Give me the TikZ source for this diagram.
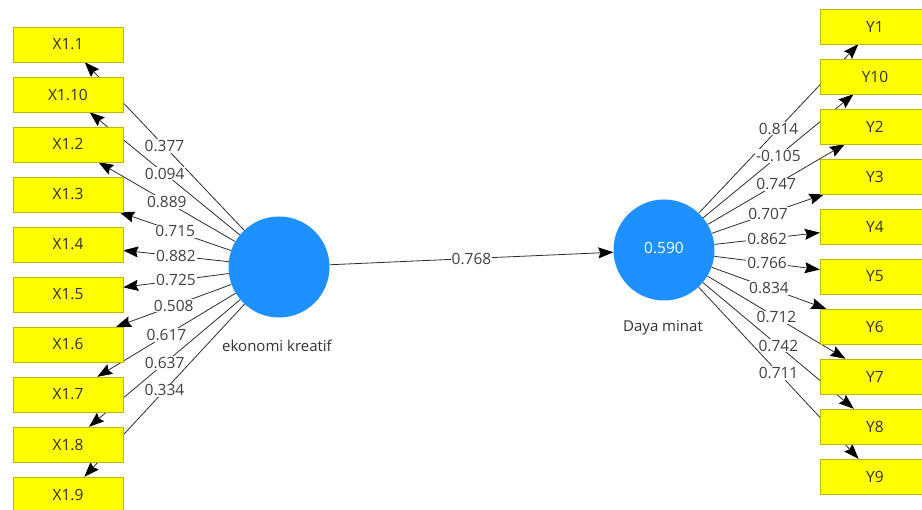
\documentclass[tikz,border=0pt]{standalone}
\usepackage{fontspec}
\setmainfont{Open Sans}
\usepackage{tikz}
\usetikzlibrary{arrows.meta, backgrounds}

\definecolor{indyellow}{RGB}{255,255,0}
\definecolor{indborder}{RGB}{185,185,20}
\definecolor{lvblue}{RGB}{30,144,255}
\definecolor{pathgray}{RGB}{45,45,45}

\begin{document}
\begin{tikzpicture}[x=1pt,y=-1pt,
    ind/.style={draw=indborder, fill=indyellow, minimum width=110pt, minimum height=35pt,
      inner sep=0pt, text=black!80, font=\fontsize{15.5}{18}\selectfont},
    lv/.style={circle, fill=lvblue, minimum size=101pt, inner sep=0pt},
    load/.style={draw=pathgray, line width=0.8pt, -{Stealth[length=15pt,width=11pt,inset=2pt,black]}},
    val/.style={fill=white, inner sep=1pt, text=black!75, font=\fontsize{15.5}{18}\selectfont},
    lvname/.style={text=black!80, font=\fontsize{15}{18}\selectfont}]
  \useasboundingbox (0,0) rectangle (922,510);

  % latent variables
  \node[lv] (ek) at (279,267) {};
  \node[lv, text=white, font=\fontsize{15.5}{18}\selectfont] (dm) at (664,250) {\raisebox{4pt}{0.590}};
  \node[lvname] (eklabel) at (277,346) {ekonomi kreatif};
  \node[lvname] (dmlabel) at (663,328) {Daya minat};

  % indicators of ekonomi kreatif
  \node[ind] (x11) at (68,44.5) {X1.1};
  \node[ind] (x110) at (68,94.5) {X1.10};
  \node[ind] (x12) at (68,144.5) {X1.2};
  \node[ind] (x13) at (68,194.5) {X1.3};
  \node[ind] (x14) at (68,244.5) {X1.4};
  \node[ind] (x15) at (68,294.5) {X1.5};
  \node[ind] (x16) at (68,344.5) {X1.6};
  \node[ind] (x17) at (68,394.5) {X1.7};
  \node[ind] (x18) at (68,444.5) {X1.8};
  \node[ind] (x19) at (68,494.5) {X1.9};

  % indicators of Daya minat
  \node[ind] (y1) at (875,26.5) {Y1};
  \node[ind] (y10) at (875,76.5) {Y10};
  \node[ind] (y2) at (875,126.5) {Y2};
  \node[ind] (y3) at (875,176.5) {Y3};
  \node[ind] (y4) at (875,226.5) {Y4};
  \node[ind] (y5) at (875,276.5) {Y5};
  \node[ind] (y6) at (875,326.5) {Y6};
  \node[ind] (y7) at (875,376.5) {Y7};
  \node[ind] (y8) at (875,426.5) {Y8};
  \node[ind] (y9) at (875,476.5) {Y9};

  \begin{scope}[on background layer]
    \draw[load] (ek) -- node[val] {0.377} (x11);
    \draw[load] (ek) -- node[val] {0.094} (x110);
    \draw[load] (ek) -- node[val] {0.889} (x12);
    \draw[load] (ek) -- node[val] {0.715} (x13);
    \draw[load] (ek) -- node[val] {0.882} (x14);
    \draw[load] (ek) -- node[val] {0.725} (x15);
    \draw[load] (ek) -- node[val] {0.508} (x16);
    \draw[load] (ek) -- node[val] {0.617} (x17);
    \draw[load] (ek) -- node[val] {0.637} (x18);
    \draw[load] (ek) -- node[val] {0.334} (x19);

    \draw[load] (dm) -- node[val] {0.814} (y1);
    \draw[load] (dm) -- node[val] {-0.105} (y10);
    \draw[load] (dm) -- node[val] {0.747} (y2);
    \draw[load] (dm) -- node[val] {0.707} (y3);
    \draw[load] (dm) -- node[val] {0.862} (y4);
    \draw[load] (dm) -- node[val] {0.766} (y5);
    \draw[load] (dm) -- node[val] {0.834} (y6);
    \draw[load] (dm) -- node[val] {0.712} (y7);
    \draw[load] (dm) -- node[val] {0.742} (y8);
    \draw[load] (dm) -- node[val] {0.711} (y9);
  \end{scope}

  % path coefficient
  \draw[load] (ek) -- node[val] {0.768} (dm);
\end{tikzpicture}
\end{document}
